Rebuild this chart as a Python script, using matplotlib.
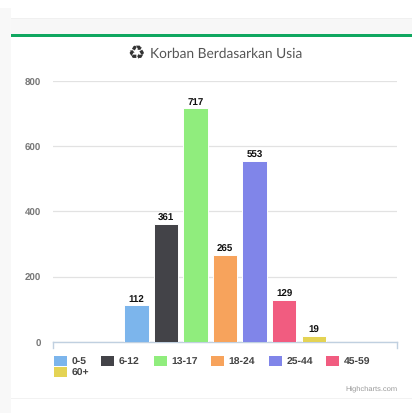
import matplotlib
matplotlib.use('Agg')
import matplotlib.pyplot as plt
from matplotlib.patches import Rectangle

W, H = 412, 414

age_groups = ['0-5', '6-12', '13-17', '18-24', '25-44', '45-59', '60+']
victims = [112, 361, 717, 265, 553, 129, 19]
colors = ['#7cb5ec', '#434348', '#90ed7d', '#f7a35c', '#8085e9', '#f15c80', '#e4d354']
y_ticks = [0, 200, 400, 600, 800]
title = 'Korban Berdasarkan Usia'
credit = 'Highcharts.com'

plt.rcParams['font.family'] = ['Liberation Sans', 'DejaVu Sans']
plt.rcParams['text.hinting'] = 'no_hinting'

fig = plt.figure(figsize=(W / 100, H / 100), dpi=100, facecolor='white')


# page pieces around the chart card, in pixels from the top left
def page_rect(x, y, w, h, color):
    fig.add_artist(Rectangle((x / W, 1 - (y + h) / H), w / W, h / H,
                             transform=fig.transFigure, color=color, lw=0))


page_rect(0, 9, 11, 405, '#f8f8f8')
page_rect(11, 19, 401, 16, '#f7f7f7')
page_rect(11, 19, 401, 1, '#f0f0f0')
page_rect(11, 35, 401, 3, '#10a760')
page_rect(11, 399, 401, 1, '#f2f2f2')

ax = fig.add_axes([52.8 / W, 1 - 342.8 / H, 344.5 / W, 261 / H])
ax.patch.set_alpha(0)

# one category with seven series, highcharts column layout
group_padding = 0.2
slot = (1 - 2 * group_padding) / len(victims)
for i, (name, val, col) in enumerate(zip(age_groups, victims, colors)):
    xpos = group_padding + slot * (i + 0.5)
    ax.bar(xpos, val, width=slot * 0.82, color=col, edgecolor='white', linewidth=0.7, zorder=3)
    ax.annotate(str(val), (xpos, val), xytext=(0, 1.4), textcoords='offset points',
                ha='center', va='bottom', fontsize=7, fontweight='bold', color='#111111')

ax.set_xlim(0, 1)
ax.set_ylim(0, 800)
ax.set_xticks([])
ax.set_yticks(y_ticks)
ax.set_yticklabels([str(t) for t in y_ticks], fontsize=7, fontweight='bold', color='#777777')
ax.tick_params(axis='y', length=0, pad=8.5)
ax.grid(axis='y', color='#e2e2e2', linewidth=0.9, zorder=0)
for side in ['top', 'left', 'right']:
    ax.spines[side].set_visible(False)
ax.spines['bottom'].set_color('#c0d0e0')
ax.spines['bottom'].set_linewidth(1.0)
ax.set_axisbelow(True)

# tick marks at both ends of the x axis
for xend in [0, 1]:
    ax.plot([xend, xend], [0, -6 / 261 * 800], color='#c0d0e0', lw=1.0, clip_on=False)

# title, icon drawn separately
fig.text(136.5 / W, 1 - 53.5 / H, '\u267b', fontsize=14, color='#333333', family='DejaVu Sans',
         ha='center', va='center')
fig.text(150 / W, 1 - 53.5 / H, title, fontsize=9.9, color='#555555', family='Lato',
         ha='left', va='center')

# legend, laid out by hand to keep the highcharts wrapping
legend_x = [54, 101, 154, 211, 269, 326, 54]
legend_y = [362, 362, 362, 362, 362, 362, 373]
for name, col, lx, ly in zip(age_groups, colors, legend_x, legend_y):
    page_rect(lx, ly - 5, 13, 10, col)
    fig.text((lx + 17.5) / W, 1 - (ly + 0.5) / H, name, fontsize=7.5, fontweight='bold', color='#444444',
             ha='left', va='center')

fig.text(397 / W, 1 - 388.5 / H, credit, fontsize=5.4, color='#999999', ha='right', va='center')

fig.savefig('out.png', dpi=100)
